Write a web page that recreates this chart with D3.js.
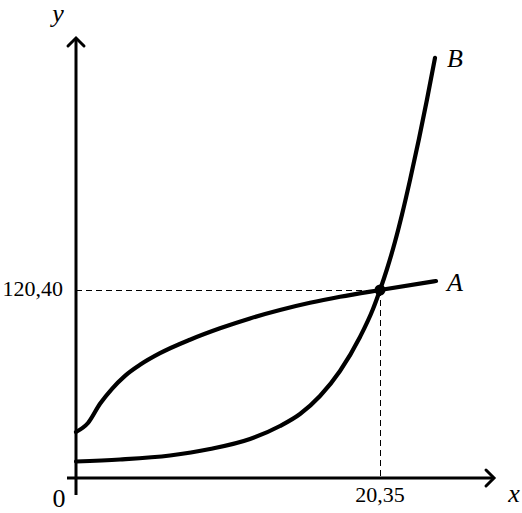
<!DOCTYPE html>
<html>
<head>
<meta charset="utf-8">
<script src="https://cdn.jsdelivr.net/npm/d3@7"></script>
<style>
  html, body { margin: 0; padding: 0; background: #fff; }
  svg { display: block; }
  text { font-family: "Liberation Serif", "DejaVu Serif", serif; fill: #000; }
</style>
</head>
<body>
<svg id="chart" width="522" height="513"></svg>
<script>
// ---- data (x in chart units, y in chart units) ----
const curveAx = [0, 0.803, 1.607, 2.410, 3.280, 4.284, 5.623, 7.631, 9.640, 11.648, 13.656, 15.664, 17.672, 20.35, 24.099];
const curveAy = [29.46, 35.22, 47.52, 57.13, 65.45, 72.50, 79.93, 88.57, 95.87, 102.21, 107.59, 112.20, 116.05, 120.40, 126.16];
const curveBx = [0, 2.945, 6.292, 8.970, 11.648, 13.656, 14.995, 16.333, 17.672, 19.011, 19.881, 20.35, 20.819, 21.354, 21.823, 22.358, 22.961, 23.496, 24.032];
const curveBy = [10.57, 11.85, 14.41, 18.57, 24.98, 33.30, 40.99, 52.51, 68.53, 90.31, 108.23, 120.40, 133.85, 151.27, 168.75, 190.78, 217.30, 242.40, 269.04];
const seriesNames = ["A", "B"];
const intersectX = 20.35;
const intersectY = 120.40;
const xTickLabel = "20,35";
const yTickLabel = "120,40";
const originLabel = "0";
const axisNames = ["x", "y"];

// ---- layout ----
const svg = d3.select("#chart");
const x = d3.scaleLinear().domain([0, intersectX]).range([76, 380]);
const y = d3.scaleLinear().domain([0, intersectY]).range([478, 290]);

const x0 = x(0), y0 = y(0);
const xAxisEnd = 494, xAxisStart = 67;
const yAxisEnd = 38, yAxisStart = 495;

// dashed guides
svg.append("line")
  .attr("x1", x0).attr("y1", y(intersectY) + 0.5)
  .attr("x2", x(intersectX)).attr("y2", y(intersectY) + 0.5)
  .attr("stroke", "#000").attr("stroke-width", 1.1).attr("stroke-dasharray", "6,4")
  .attr("shape-rendering", "crispEdges");
svg.append("line")
  .attr("x1", x(intersectX) + 0.5).attr("y1", y(intersectY))
  .attr("x2", x(intersectX) + 0.5).attr("y2", y0)
  .attr("stroke", "#000").attr("stroke-width", 1.1).attr("stroke-dasharray", "6,4")
  .attr("shape-rendering", "crispEdges");

// axes
svg.append("line").attr("x1", xAxisStart).attr("y1", y0).attr("x2", xAxisEnd).attr("y2", y0)
  .attr("stroke", "#000").attr("stroke-width", 3);
svg.append("line").attr("x1", x0).attr("y1", yAxisStart).attr("x2", x0).attr("y2", yAxisEnd)
  .attr("stroke", "#000").attr("stroke-width", 3);
// arrow heads
svg.append("path")
  .attr("d", `M${xAxisEnd - 8},${y0 - 8} L${xAxisEnd},${y0} L${xAxisEnd - 8},${y0 + 8}`)
  .attr("fill", "none").attr("stroke", "#000").attr("stroke-width", 3)
  .attr("stroke-linecap", "round").attr("stroke-linejoin", "miter");
svg.append("path")
  .attr("d", `M${x0 - 8},${yAxisEnd + 8} L${x0},${yAxisEnd} L${x0 + 8},${yAxisEnd + 8}`)
  .attr("fill", "none").attr("stroke", "#000").attr("stroke-width", 3)
  .attr("stroke-linecap", "round").attr("stroke-linejoin", "miter");

// curves
const line = d3.line().x(d => x(d[0])).y(d => y(d[1])).curve(d3.curveMonotoneX);
const dataA = curveAx.map((v, i) => [v, curveAy[i]]);
const dataB = curveBx.map((v, i) => [v, curveBy[i]]);
[dataA, dataB].forEach(d => {
  svg.append("path").attr("d", line(d))
    .attr("fill", "none").attr("stroke", "#000").attr("stroke-width", 4.2)
    .attr("stroke-linecap", "round").attr("stroke-linejoin", "round");
});

// intersection point
svg.append("circle").attr("cx", x(intersectX)).attr("cy", y(intersectY)).attr("r", 5.5).attr("fill", "#000");

// labels
svg.append("text").attr("x", x(intersectX)).attr("y", 502).attr("text-anchor", "middle")
  .attr("font-size", 22).text(xTickLabel);
svg.append("text").attr("x", 63).attr("y", y(intersectY) + 6).attr("text-anchor", "end")
  .attr("font-size", 22).text(yTickLabel);
svg.append("text").attr("x", 59).attr("y", 507).attr("text-anchor", "middle")
  .attr("font-size", 26).text(originLabel);
svg.append("text").attr("x", 514).attr("y", 502).attr("text-anchor", "middle")
  .attr("font-size", 26).attr("font-style", "italic").text(axisNames[0]);
svg.append("text").attr("x", 58).attr("y", 22).attr("text-anchor", "middle")
  .attr("font-size", 26).attr("font-style", "italic").text(axisNames[1]);

const endA = dataA[dataA.length - 1], endB = dataB[dataB.length - 1];
svg.append("text").attr("x", 447).attr("y", y(endA[1]) + 10)
  .attr("font-size", 26).attr("font-style", "italic").text(seriesNames[0]);
svg.append("text").attr("x", 447).attr("y", y(endB[1]) + 9)
  .attr("font-size", 26).attr("font-style", "italic").text(seriesNames[1]);
</script>
</body>
</html>
